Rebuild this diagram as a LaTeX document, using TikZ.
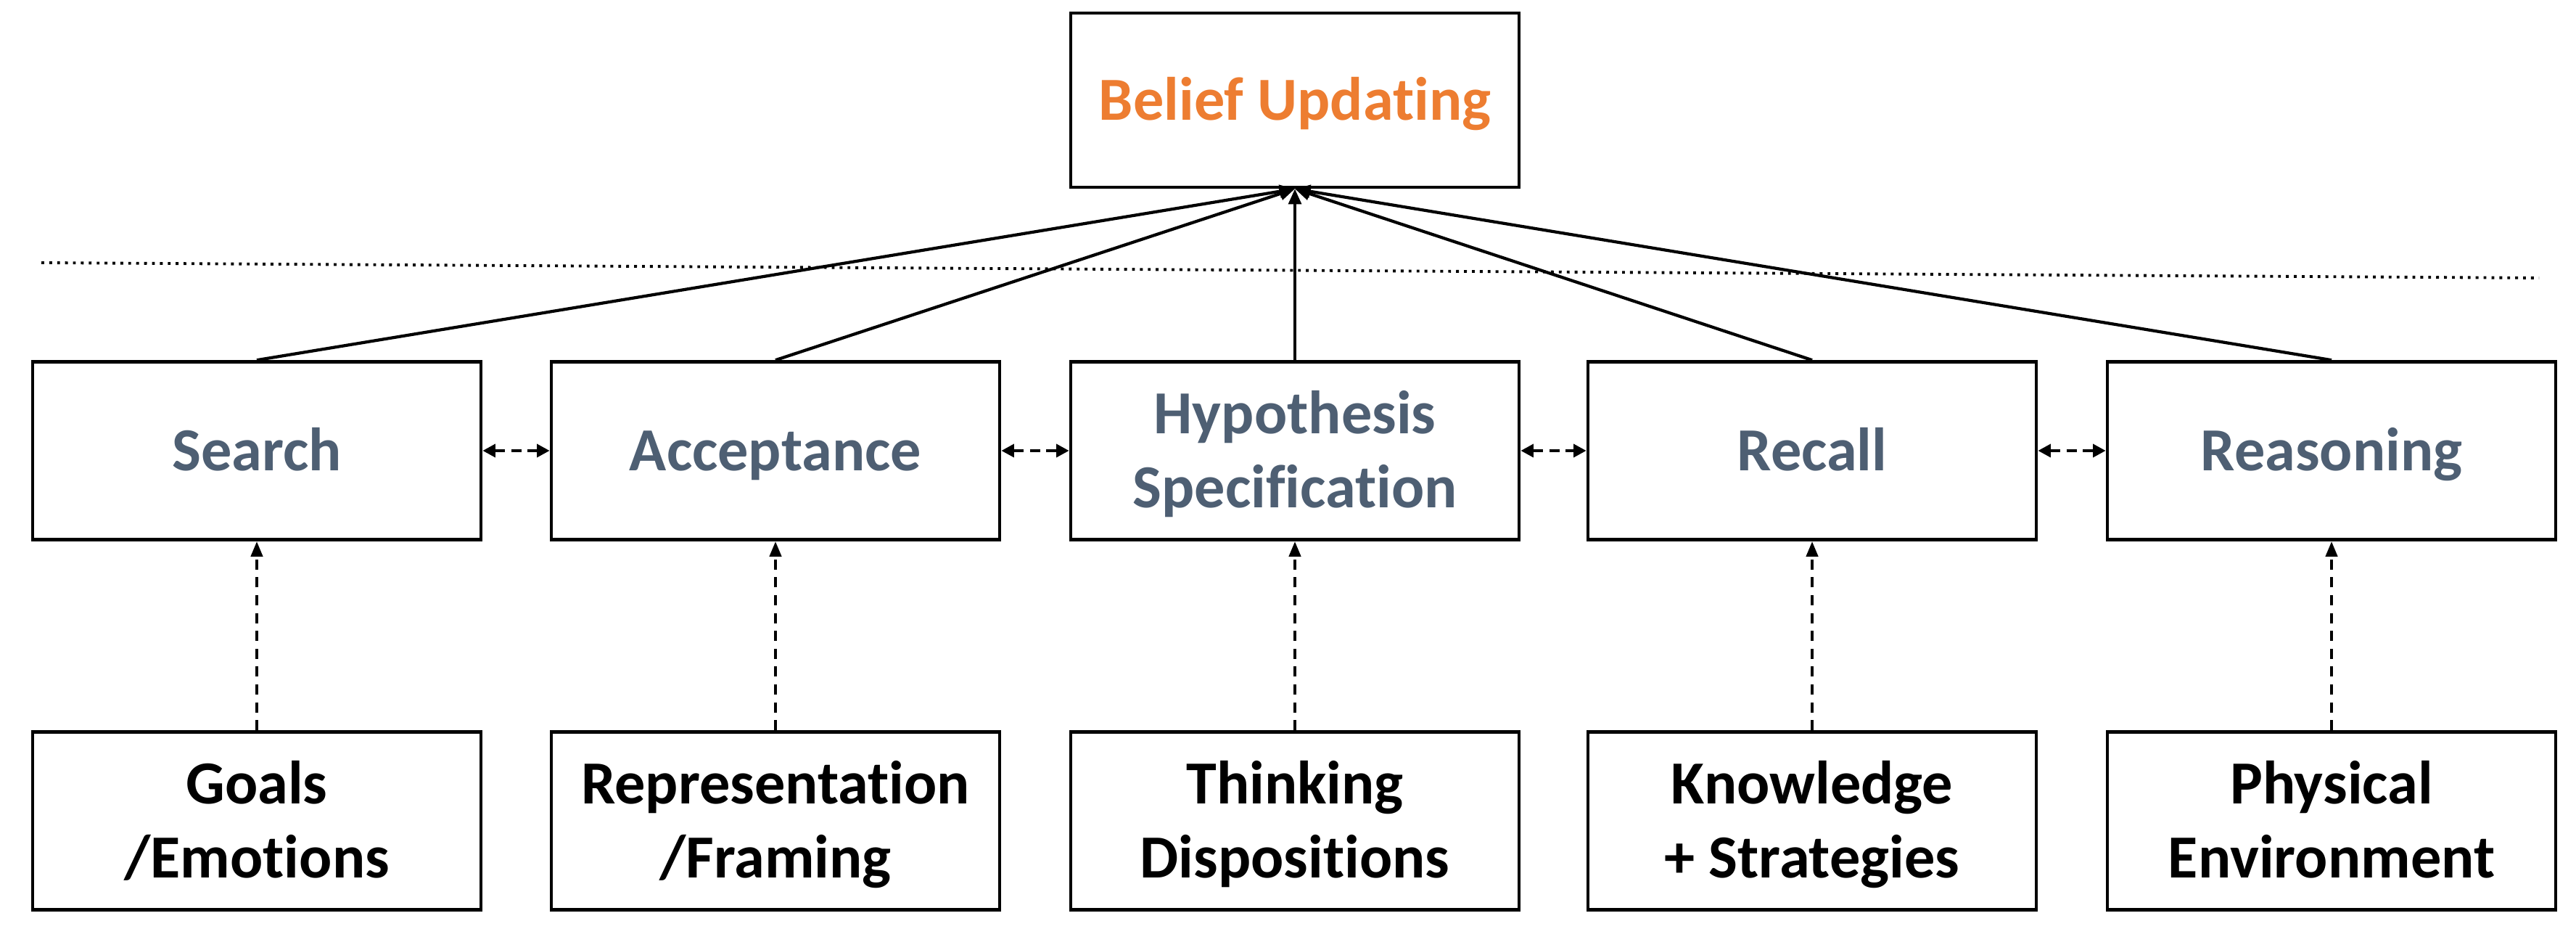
\documentclass[tikz,border=0pt]{standalone}
\usepackage{fontspec}
\setmainfont{Carlito}[Ligatures=NoCommon]
\usetikzlibrary{arrows.meta}
\definecolor{beliefor}{RGB}{237,125,49}
\definecolor{procgray}{RGB}{78,95,115}
\newcommand\bt{\rule{0pt}{23.4pt}}
\newcommand\bb{\rule[-8pt]{0pt}{8pt}}
\begin{document}
\begin{tikzpicture}[
  box/.style={draw, line width=1.3pt, minimum width=6.18cm, minimum height=2.45cm, align=center, font=\fontsize{24}{29}\selectfont\bfseries},
  proc/.style={box, text=procgray},
  upline/.style={line width=1.2pt, -{Triangle[length=6pt,width=5pt]}},
  link/.style={line width=1.3pt, dash pattern=on 4pt off 2.5pt, {Triangle[length=5pt,width=5pt]}-{Triangle[length=5pt,width=5pt]}},
  feed/.style={line width=1.3pt, dash pattern=on 4pt off 3pt, -{Triangle[length=6pt,width=4.5pt]}}]
\useasboundingbox (0,0) rectangle (35.51,12.8);
 % top
 \node[box, text=beliefor, minimum height=2.40cm] (belief) at (17.85,11.42) {\bt Belief Updating\bb};
 \draw[line width=1.1pt, dotted] (0.57,9.18) -- (35.0,8.97);
 % middle row
 \node[proc] (search) at (3.54,6.59) {\bt Search\bb};
 \node[proc] (accept) at (10.69,6.59) {\bt Acceptance\bb};
 \node[proc] (hypo) at (17.85,6.59) {\bt Hypothesis\\Specification\bb};
 \node[proc] (recall) at (24.98,6.59) {\bt Recall\bb};
 \node[proc] (reason) at (32.14,6.59) {\bt Reasoning\bb};
 % bottom row
 \node[box] (goals) at (3.54,1.49) {\bt Goals\\/Emotions\bb};
 \node[box] (repr) at (10.69,1.49) {\bt Representation\\/Framing\bb};
 \node[box] (think) at (17.85,1.49) {\bt Thinking\\Dispositions\bb};
 \node[box] (know) at (24.98,1.49) {\bt Knowledge\\+ Strategies\bb};
 \node[box] (phys) at (32.14,1.49) {\bt Physical\\Environment\bb};
 % into belief updating
 \draw[upline] (search.north) -- (belief.south);
 \draw[upline] (accept.north) -- (belief.south);
 \draw[upline] (hypo.north) -- (belief.south);
 \draw[upline] (recall.north) -- (belief.south);
 \draw[upline] (reason.north) -- (belief.south);
 % between processes
 \draw[link] (search.east) -- (accept.west);
 \draw[link] (accept.east) -- (hypo.west);
 \draw[link] (hypo.east) -- (recall.west);
 \draw[link] (recall.east) -- (reason.west);
 % from factors
 \draw[feed] (goals.north) -- (search.south);
 \draw[feed] (repr.north) -- (accept.south);
 \draw[feed] (think.north) -- (hypo.south);
 \draw[feed] (know.north) -- (recall.south);
 \draw[feed] (phys.north) -- (reason.south);
\end{tikzpicture}
\end{document}
